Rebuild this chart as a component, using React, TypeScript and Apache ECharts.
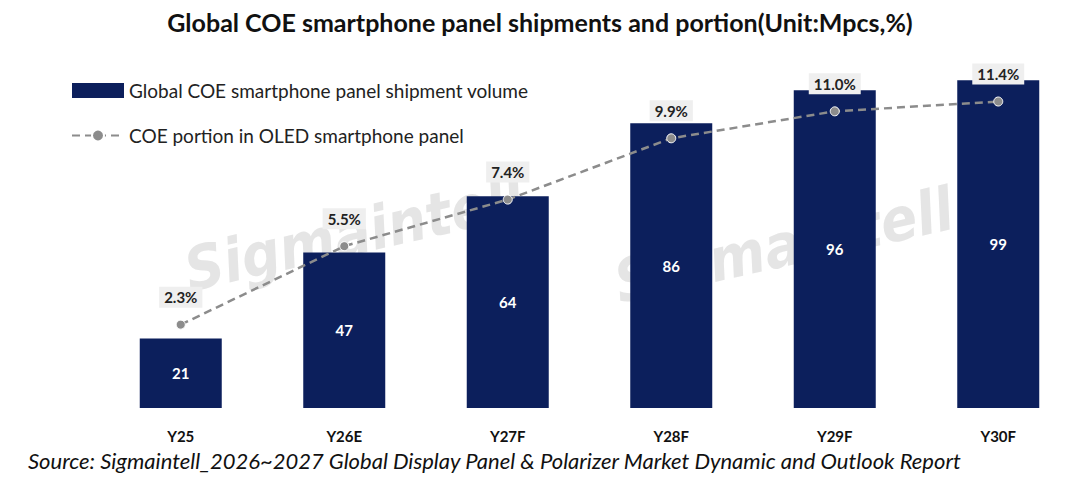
import React, { useEffect, useRef } from "react";
import * as echarts from "echarts";

const categories = ["Y25", "Y26E", "Y27F", "Y28F", "Y29F", "Y30F"];
const shipments = [21, 47, 64, 86, 96, 99];
const portion = [2.3, 5.5, 7.4, 9.9, 11.0, 11.4];

const FONT = "Lato, 'Open Sans', sans-serif";

const watermark = (x: number, y: number) => ({
  type: "text",
  x,
  y,
  rotation: 0.22,
  style: {
    text: "Sigmaintell",
    fontSize: 60,
    fontWeight: "bold",
    fontStyle: "italic",
    fontFamily: "'Liberation Sans Narrow', 'DejaVu Sans Condensed', sans-serif",
    fill: "rgba(160,160,160,0.28)",
    verticalAlign: "bottom",
  },
});

const App: React.FC = () => {
  const chartRef = useRef<HTMLDivElement>(null);

  useEffect(() => {
    const chart = echarts.init(chartRef.current!, undefined, { renderer: "svg" });

    const options = {
      animation: false,
      backgroundColor: "#ffffff",
      textStyle: { fontFamily: FONT },
      title: {
        text: "Global COE smartphone panel shipments and portion(Unit:Mpcs,%)",
        left: "center",
        top: 4,
        textStyle: { fontSize: 25, fontWeight: "bold", color: "#111", fontFamily: FONT },
      },
      legend: {
        orient: "vertical",
        left: 66,
        top: 76,
        itemGap: 26,
        itemWidth: 52,
        itemHeight: 15,
        textStyle: { fontSize: 19, color: "#222", fontFamily: FONT },
        data: [
          { name: "Global COE smartphone panel shipment volume", icon: "rect" },
          { name: "COE portion in OLED smartphone panel" },
        ],
      },
      grid: { left: 99, right: -4, top: 77, bottom: 74 },
      xAxis: {
        type: "category",
        data: categories,
        axisLine: { show: false },
        axisTick: { show: false },
        axisLabel: { fontSize: 15, fontWeight: "bold", color: "#111", margin: 20, fontFamily: FONT },
      },
      yAxis: [
        { type: "value", min: 0, max: 100, show: false },
        { type: "value", min: -1.1, max: 12.4, show: false },
      ],
      graphic: [
        watermark(192, 300),
        watermark(622, 312),
        {
          type: "text",
          left: 28,
          top: 449,
          style: {
            text: "Source: Sigmaintell_2026~2027 Global Display Panel & Polarizer Market Dynamic and Outlook Report",
            fontSize: 22,
            fontStyle: "italic",
            fontFamily: FONT,
            fill: "#111",
          },
        },
      ],
      series: [
        {
          name: "Global COE smartphone panel shipment volume",
          type: "bar",
          data: shipments,
          barWidth: 82,
          itemStyle: { color: "#0c1f5c" },
          label: {
            show: true,
            position: "inside",
            color: "#fff",
            fontWeight: "bold",
            fontSize: 15,
            fontFamily: FONT,
          },
        },
        {
          name: "COE portion in OLED smartphone panel",
          type: "line",
          yAxisIndex: 1,
          data: portion,
          symbol: "circle",
          symbolSize: 9,
          itemStyle: { color: "#8c8c8c", borderColor: "#fff", borderWidth: 1 },
          lineStyle: { color: "#8c8c8c", width: 2.5, type: [8, 5] },
          label: {
            show: true,
            position: "top",
            distance: 12,
            formatter: (p: any) => p.value.toFixed(1) + "%",
            fontSize: 15,
            fontWeight: "bold",
            color: "#222",
            backgroundColor: "#efefef",
            padding: [3, 5],
            fontFamily: FONT,
          },
        },
      ],
    };

    chart.setOption(options);
    return () => {
      chart.dispose();
    };
  }, []);

  return (
    <div
      ref={chartRef}
      style={{ position: "fixed", left: 0, top: 0, width: 1080, height: 482 }}
    ></div>
  );
};

export default App;
